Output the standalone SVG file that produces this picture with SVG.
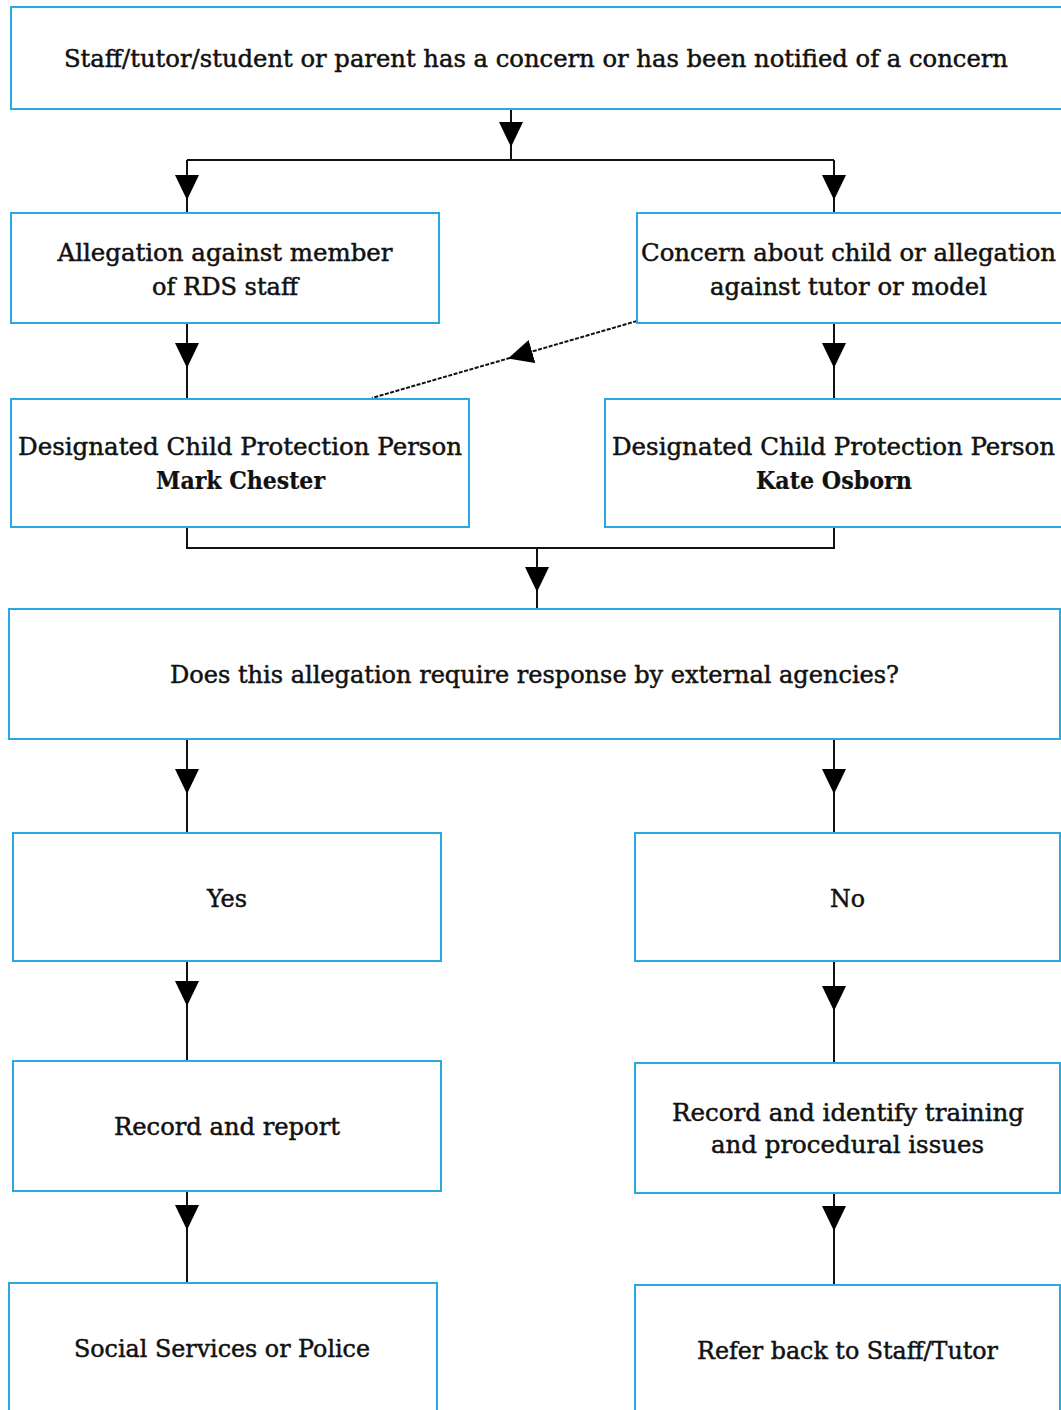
<svg xmlns="http://www.w3.org/2000/svg" width="1061" height="1410" viewBox="0 0 1061 1410">
<style>
.box{fill:#fff;stroke:#29a9e1;stroke-width:2}
.t{font-family:"DejaVu Serif Condensed","DejaVu Serif","Liberation Serif",serif;font-size:24px;fill:#111;stroke:#111;stroke-width:0.45;text-anchor:middle}
.b{font-weight:bold;stroke-width:0.2}
.c{fill:none;stroke:#111;stroke-width:2}
.d{stroke-dasharray:4 1.5}
</style>
<defs>
<marker id="ah" markerUnits="userSpaceOnUse" markerWidth="26" markerHeight="26" viewBox="0 0 26 26" refX="25" refY="13" orient="auto">
<path d="M0,1 L25,13 L0,25 z" fill="#000"/>
</marker>
</defs>
<rect width="1061" height="1410" fill="#fff"/>
<g id="connectors">
<path class="c" d="M511 109 L511 147 L511 160" marker-mid="url(#ah)"/>
<path class="c" d="M187 160 H834"/>
<path class="c" d="M187 160 L187 200 L187 213" marker-mid="url(#ah)"/>
<path class="c" d="M834 160 L834 200 L834 213" marker-mid="url(#ah)"/>
<path class="c" d="M187 323 L187 368 L187 399" marker-mid="url(#ah)"/>
<path class="c" d="M834 323 L834 368 L834 399" marker-mid="url(#ah)"/>
<path class="c d" d="M637 321 L508 358.5 L372 398" marker-mid="url(#ah)"/>
<path class="c" d="M187 527 V548 H834 V527"/>
<path class="c" d="M537 548 L537 592 L537 609" marker-mid="url(#ah)"/>
<path class="c" d="M187 739 L187 794 L187 833" marker-mid="url(#ah)"/>
<path class="c" d="M834 739 L834 794 L834 833" marker-mid="url(#ah)"/>
<path class="c" d="M187 961 L187 1006 L187 1061" marker-mid="url(#ah)"/>
<path class="c" d="M834 961 L834 1011 L834 1063" marker-mid="url(#ah)"/>
<path class="c" d="M187 1191 L187 1230 L187 1283" marker-mid="url(#ah)"/>
<path class="c" d="M834 1193 L834 1231 L834 1285" marker-mid="url(#ah)"/>
</g>
<g id="n-start">
<rect class="box" x="11" y="7" width="1060" height="102"/>
<text class="t" x="536" y="67" textLength="944" lengthAdjust="spacingAndGlyphs">Staff/tutor/student or parent has a concern or has been notified of a concern</text>
</g>
<g id="n-staff">
<rect class="box" x="11" y="213" width="428" height="110"/>
<text class="t" x="225" y="261" textLength="335" lengthAdjust="spacingAndGlyphs">Allegation against member</text>
<text class="t" x="225" y="295" textLength="146" lengthAdjust="spacingAndGlyphs">of RDS staff</text>
</g>
<g id="n-child">
<rect class="box" x="637" y="213" width="434" height="110"/>
<text class="t" x="848.5" y="261" textLength="415" lengthAdjust="spacingAndGlyphs">Concern about child or allegation</text>
<text class="t" x="848.5" y="295" textLength="277" lengthAdjust="spacingAndGlyphs">against tutor or model</text>
</g>
<g id="n-mark">
<rect class="box" x="11" y="399" width="458" height="128"/>
<text class="t" x="240" y="455" textLength="444" lengthAdjust="spacingAndGlyphs">Designated Child Protection Person</text>
<text class="t b" x="240.5" y="489" textLength="169" lengthAdjust="spacingAndGlyphs">Mark Chester</text>
</g>
<g id="n-kate">
<rect class="box" x="605" y="399" width="466" height="128"/>
<text class="t" x="833.5" y="455" textLength="443" lengthAdjust="spacingAndGlyphs">Designated Child Protection Person</text>
<text class="t b" x="834" y="489" textLength="156" lengthAdjust="spacingAndGlyphs">Kate Osborn</text>
</g>
<g id="n-question">
<rect class="box" x="9" y="609" width="1051" height="130"/>
<text class="t" x="534.5" y="683" textLength="729" lengthAdjust="spacingAndGlyphs">Does this allegation require response by external agencies?</text>
</g>
<g id="n-yes">
<rect class="box" x="13" y="833" width="428" height="128"/>
<text class="t" x="227" y="907" textLength="40" lengthAdjust="spacingAndGlyphs">Yes</text>
</g>
<g id="n-no">
<rect class="box" x="635" y="833" width="425" height="128"/>
<text class="t" x="847.5" y="907" textLength="35" lengthAdjust="spacingAndGlyphs">No</text>
</g>
<g id="n-record">
<rect class="box" x="13" y="1061" width="428" height="130"/>
<text class="t" x="227" y="1135" textLength="226" lengthAdjust="spacingAndGlyphs">Record and report</text>
</g>
<g id="n-identify">
<rect class="box" x="635" y="1063" width="425" height="130"/>
<text class="t" x="848" y="1121" textLength="352" lengthAdjust="spacingAndGlyphs">Record and identify training</text>
<text class="t" x="847.5" y="1153" textLength="273" lengthAdjust="spacingAndGlyphs">and procedural issues</text>
</g>
<g id="n-police">
<rect class="box" x="9" y="1283" width="428" height="140"/>
<text class="t" x="222" y="1357" textLength="296" lengthAdjust="spacingAndGlyphs">Social Services or Police</text>
</g>
<g id="n-refer">
<rect class="box" x="635" y="1285" width="425" height="140"/>
<text class="t" x="847.5" y="1359" textLength="301" lengthAdjust="spacingAndGlyphs">Refer back to Staff/Tutor</text>
</g>
</svg>
